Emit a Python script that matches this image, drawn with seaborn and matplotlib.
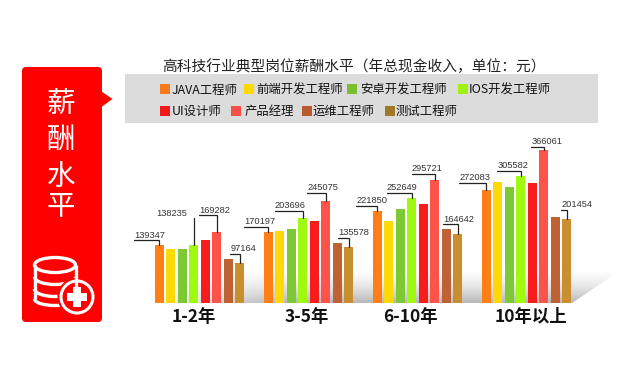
#!/usr/bin/env python3
"""Salary levels for typical high-tech jobs, by years of experience."""

import numpy as np
import pandas as pd
import matplotlib.pyplot as plt
import seaborn as sns
from matplotlib.patches import Circle, Ellipse, FancyBboxPatch, Polygon, Rectangle, Arc
from matplotlib.transforms import ScaledTranslation

YEARS = ["1-2年", "3-5年", "6-10年", "10年以上"]
ROLES = ["JAVA工程师", "前端开发工程师", "安卓开发工程师", "IOS开发工程师",
         "UI设计师", "产品经理", "运维工程师", "测试工程师"]

JAVA = [139347, 170197, 221850, 272083]
FRONTEND = [129000, 173000, 196000, 290000]
ANDROID = [129000, 178000, 225000, 278000]
IOS = [138235, 203696, 252649, 305582]
UI = [150500, 197000, 237000, 288000]
PRODUCT = [169282, 245075, 295721, 366061]
OPS = [105000, 143000, 178000, 207000]
TEST = [97164, 135578, 164642, 201454]

BAR_COLORS = ["#FF7F14", "#FFD808", "#7DC835", "#A0FA10",
              "#F81C1C", "#FF5248", "#BE6234", "#C98E2E"]
KEY_COLORS = ["#F47A1C", "#FFD800", "#78C030", "#A0F010",
              "#F01818", "#F85048", "#B85C30", "#A07828"]

# the four labelled roles in each group
LABELLED = [0, 3, 5, 7]
# length of the rule left of the leader, and its height above the bar (px)
RULE_LEN = [[25, 37, 18, 9.5], [24, 28, 18.5, 11], [21, 25, 23, 15], [27, 23.5, 12.5, 5.5]]
RULE_RISE = [[4.5, 27, 17, 8.7], [5, 7, 8, 9], [5, 4.5, 6, 10], [7, 5, 3.5, 9.5]]

KEY_X = [160, 244, 347, 458, 160, 231, 302, 385]
KEY_TEXT_X = [172, 256, 360, 469, 172, 245, 313, 395]
TICK_SHIFT = [-5.5, -2, -7, 4]

sns.set_theme(style="white")
plt.rcParams["font.family"] = ["Noto Sans CJK SC", "DejaVu Sans"]

fig = plt.figure(figsize=(6.17, 3.89), dpi=100)

# background layer in image pixels
bg = fig.add_axes([0, 0, 1, 1])
bg.set_xlim(0, 617)
bg.set_ylim(389, 0)
bg.axis("off")

# red side panel
bg.add_patch(Polygon([(100, 90.5), (112.5, 99), (100, 108)], color="#FE0000", lw=0))
bg.add_patch(FancyBboxPatch((22, 67), 80, 255, boxstyle="round,pad=0,rounding_size=4",
                            fc="#FE0000", ec="none", lw=0))
for ch, cy in zip("薪酬水平", [104.5, 139.5, 176.5, 206.5]):
    bg.text(61, cy, ch, color="white", fontsize=20.5, ha="center", va="center")

# database + plus icon
for cy in [289, 277]:
    bg.add_patch(Arc((55, cy), 41, 15, theta1=0, theta2=180, color="white", lw=2.4))
bg.add_patch(Arc((55, 299), 41, 13, theta1=0, theta2=180, color="white", lw=2.4))
bg.add_patch(Ellipse((55, 265), 41, 15, fc="none", ec="white", lw=2.4))
bg.plot([34.5, 34.5], [265, 299], color="white", lw=2.4, solid_capstyle="butt")
bg.plot([75.5, 75.5], [265, 289], color="white", lw=2.4, solid_capstyle="butt")
bg.add_patch(Circle((77, 297), 19.5, fc="#FE0000", ec="none"))
bg.add_patch(Circle((77, 297), 16, fc="#FE0000", ec="white", lw=2.2))
bg.add_patch(Rectangle((73.3, 287), 7.4, 20, fc="white", ec="none"))
bg.add_patch(Rectangle((67, 293.3), 20, 7.4, fc="white", ec="none"))

# title and legend band
bg.text(162, 66.5, "高科技行业典型岗位薪酬水平（年总现金收入，单位：元）",
        fontsize=10.6, color="#222222", ha="left", va="center")
bg.add_patch(Rectangle((125, 74), 473, 49, fc="#DCDCDC", ec="none"))
for i, role in enumerate(ROLES):
    cy = 89 if i < 4 else 110.5
    bg.add_patch(Rectangle((KEY_X[i], cy - 5), 10, 10, fc=KEY_COLORS[i], ec="none"))
    bg.text(KEY_TEXT_X[i], cy + 1, role, fontsize=8.9, color="#111111", ha="left", va="center")

# floor shading behind the bars
fade_y = np.linspace(0, 1, 64).reshape(-1, 1) ** 1.6
fade_x = np.clip((np.linspace(150, 612, 256) - 150) / 130, 0, 1).reshape(1, -1)
rgba = np.ones((64, 256, 4)) * 0.72
rgba[..., 3] = fade_y * (0.05 + 0.95 * fade_x)
floor = bg.imshow(rgba, extent=(150, 612, 303, 268), aspect="auto", zorder=1)
floor.set_clip_path(Polygon([(150, 303), (572, 303), (612, 276), (612, 268), (150, 268)],
                            transform=bg.transData))
bg.set_xlim(0, 617)
bg.set_ylim(389, 0)

# chart layer
df = pd.DataFrame({"years": YEARS * 8,
                   "role": np.repeat(ROLES, 4),
                   "salary": JAVA + FRONTEND + ANDROID + IOS + UI + PRODUCT + OPS + TEST})

ax = fig.add_axes([145 / 617, 86 / 389, 436 / 617, 173 / 389])
ax.patch.set_alpha(0)
sns.barplot(data=df, x="years", y="salary", hue="role", hue_order=ROLES, order=YEARS,
            palette=BAR_COLORS, saturation=1, width=0.846, gap=0.2, linewidth=0,
            legend=False, ax=ax)
ax.set_xlim(-0.5, 3.5)
ax.set_ylim(0, 415200)
ax.set_xlabel("")
ax.set_ylabel("")
ax.set_yticks([])
sns.despine(ax=ax, left=True, bottom=True)
ax.tick_params(axis="x", length=0, pad=3.5)
for lab, shift in zip(ax.get_xticklabels(), TICK_SHIFT):
    lab.set_fontsize(12.5)
    lab.set_fontweight("bold")
    lab.set_color("#111111")
    lab.set_transform(lab.get_transform() + ScaledTranslation(shift / 100, 0, fig.dpi_scale_trans))

to_px = bg.transData.inverted()
for g in range(len(YEARS)):
    for k, r in enumerate(LABELLED):
        bar = ax.containers[r][g]
        val = bar.get_height()
        x, y = to_px.transform(ax.transData.transform((bar.get_x() + bar.get_width() / 2, val)))
        top = y - RULE_RISE[g][k]
        left = x - RULE_LEN[g][k]
        # the second bar of the first group has a plain vertical leader
        if (g, r) == (0, 3):
            xs, ys = [x, x], [top, y]
        else:
            xs, ys = [left, x, x], [top, top, y]
        ax.plot(xs, ys, color="#222222", lw=0.9, transform=bg.transData, clip_on=False,
                solid_joinstyle="miter")
        ax.text(left, top - 0.8, f"{val:.0f}", fontsize=6.7, color="#333333",
                family="Liberation Sans", ha="left", va="bottom", transform=bg.transData)

fig.savefig("out.png", dpi=100)
plt.close(fig)
